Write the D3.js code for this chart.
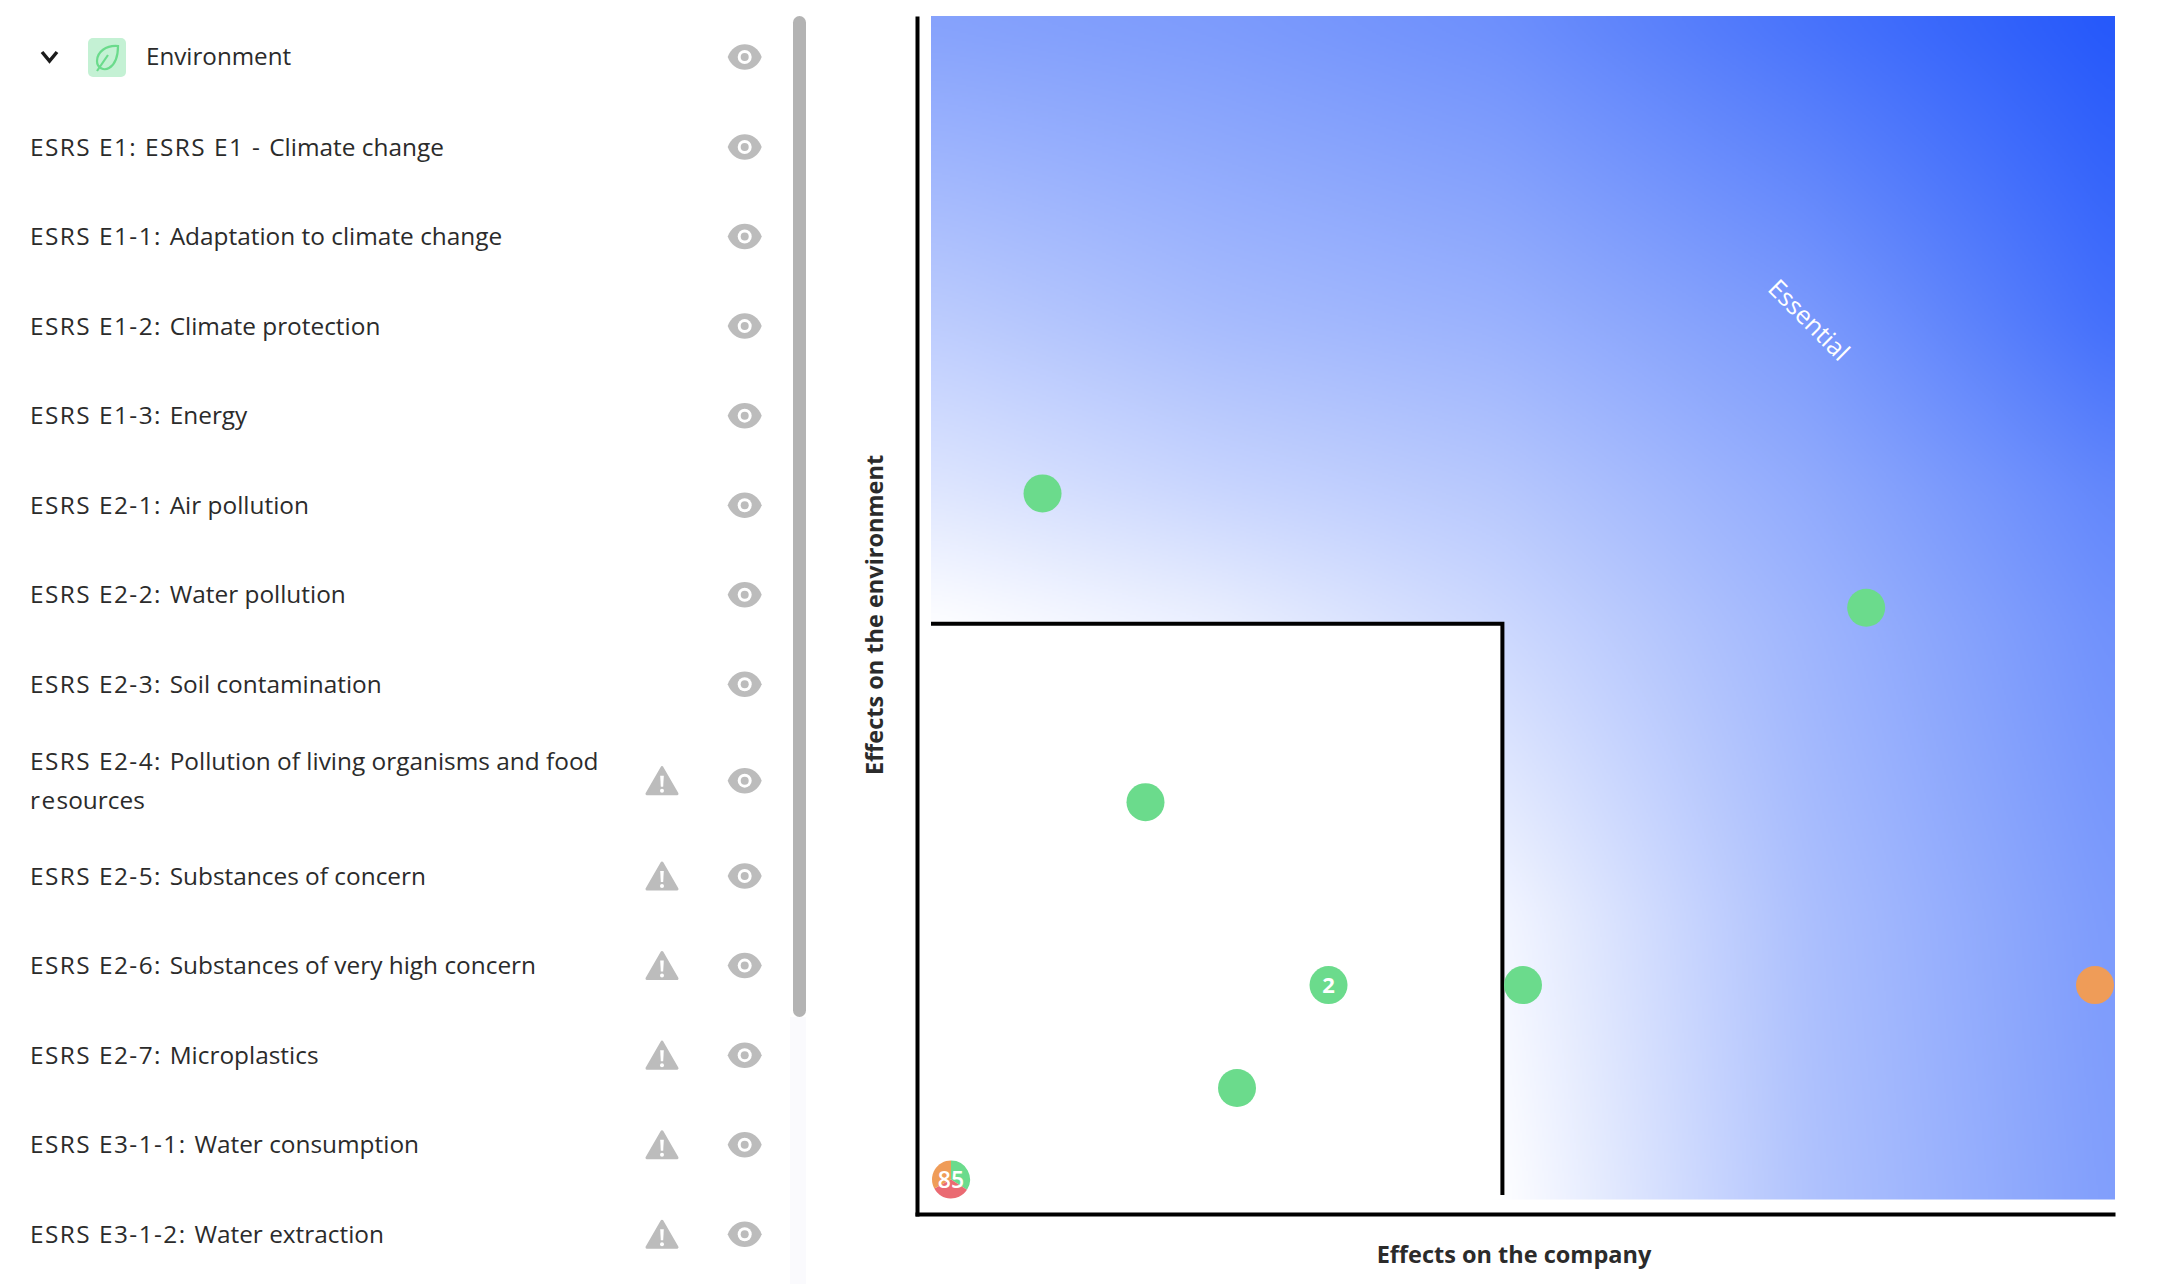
<!DOCTYPE html>
<html>
<head>
<meta charset="utf-8">
<script src="https://cdn.jsdelivr.net/npm/d3@7"></script>
<style>
  body { margin: 0; background: #fff; overflow: hidden; }
  svg { display: block; font-family: "Open Sans", "Noto Sans", sans-serif; }
</style>
</head>
<body>
<svg id="chart" width="2158" height="1284"></svg>
<script>
// sidebar rows
const topics = [
  'ESRS E1: ESRS E1 - Climate change',
  'ESRS E1-1: Adaptation to climate change',
  'ESRS E1-2: Climate protection',
  'ESRS E1-3: Energy',
  'ESRS E2-1: Air pollution',
  'ESRS E2-2: Water pollution',
  'ESRS E2-3: Soil contamination',
  'ESRS E2-4: Pollution of living organisms and food|resources',
  'ESRS E2-5: Substances of concern',
  'ESRS E2-6: Substances of very high concern',
  'ESRS E2-7: Microplastics',
  'ESRS E3-1-1: Water consumption',
  'ESRS E3-1-2: Water extraction'
]
const topicWarning = [0,0,0,0,0,0,0,1,1,1,1,1,1]

// matrix points, values on a 0-100 score
const scoreCompany     = [8, 80, 17, 33, 50, 25]
const scoreEnvironment = [60, 50, 33, 17, 17, 8]
const orangeCompany = 100, orangeEnvironment = 17
const clusterShares = [29, 28, 28]
const clusterColors = ['#6bdb8c', '#ea6a72', '#ef9c58']
const clusterLabel = '85'
const labelledIndex = 3, labelledCount = '2'
const thresholdCompany = 48.2, thresholdEnvironment = 48.6

// background shade (0 white, 1 full blue)
const shadeX = [0, 0.24, 0.48, 0.74, 1]
const shadeY = [0, 0.24, 0.485, 0.6, 0.74, 1]
const shade = [
  [0, 0, 0, 0.36, 0.58],
  [0, 0, 0.05, 0.38, 0.6],
  [0, 0.09, 0.23, 0.44, 0.66],
  [0.15, 0.25, 0.33, 0.5, 0.72],
  [0.3, 0.4, 0.46, 0.6, 0.86],
  [0.56, 0.6, 0.67, 0.84, 1]
]

let svg = d3.select('#chart')
const grey = '#bcbcbc', ink = '#2b2b2b', green = '#6bdb8c'

let x = d3.scaleLinear().domain([-1.75, 101.75]).range([931, 2115])
let y = d3.scaleLinear().domain([-1.75, 101.75]).range([1199.5, 16])

// ---- blue background, painted on a canvas then put in the svg
let side = 592
let knot = (arr, v) => {
  let i = Math.min(d3.bisectRight(arr, v) - 1, arr.length - 2)
  return [i, (v - arr[i]) / (arr[i + 1] - arr[i])]
}
let field = d3.range(side).map(r => d3.range(side).map(c => {
  let [ix, fx] = knot(shadeX, c / (side - 1))
  let [iy, fy] = knot(shadeY, 1 - r / (side - 1))
  let low = shade[iy][ix] + (shade[iy][ix + 1] - shade[iy][ix]) * fx
  let high = shade[iy + 1][ix] + (shade[iy + 1][ix + 1] - shade[iy + 1][ix]) * fx
  return low + (high - low) * fy
}))
// soften the creases between the read values
let clampI = i => Math.max(0, Math.min(side - 1, i))
for (let pass = 0; pass < 2; pass++) {
  field = field.map((row, r) => row.map((v, c) => d3.mean(d3.range(-10, 11), k => row[clampI(c + k)])))
  field = field.map((row, r) => row.map((v, c) => d3.mean(d3.range(-10, 11), k => field[clampI(r + k)][c])))
}
let canvas = document.createElement('canvas')
canvas.width = side; canvas.height = side
let ctx = canvas.getContext('2d')
let img = ctx.createImageData(side, side)
let blue = d3.interpolateRgb('#ffffff', '#2457fa')
field.forEach((row, r) => row.forEach((t, c) => {
  let col = d3.rgb(blue(t))
  let k = (r * side + c) * 4
  img.data[k] = col.r; img.data[k + 1] = col.g; img.data[k + 2] = col.b; img.data[k + 3] = 255
}))
ctx.putImageData(img, 0, 0)
svg.append('image')
  .attr('href', canvas.toDataURL())
  .attr('x', x.range()[0]).attr('y', y.range()[1])
  .attr('width', x.range()[1] - x.range()[0])
  .attr('height', y.range()[0] - y.range()[1])
  .attr('preserveAspectRatio', 'none')

// white low-priority box and its two edges
svg.append('rect')
  .attr('x', x.range()[0]).attr('y', y(thresholdEnvironment))
  .attr('width', x(thresholdCompany) - x.range()[0])
  .attr('height', y.range()[0] - y(thresholdEnvironment))
  .attr('fill', '#fff')
svg.append('path')
  .attr('d', `M${x.range()[0]},${y(thresholdEnvironment)}H${x(thresholdCompany)}V1195`)
  .attr('fill', 'none').attr('stroke', '#000').attr('stroke-width', 4)

// axes, no ticks
let axisX = d3.scaleLinear().domain([0, 1]).range([915, 2115])
let axisY = d3.scaleLinear().domain([0, 1]).range([1216, 16])
svg.append('g').attr('transform', 'translate(0,1214)')
  .call(d3.axisBottom(axisX).tickValues([]).tickSizeOuter(0))
  .select('.domain').attr('stroke', '#000').attr('stroke-width', 4)
svg.append('g').attr('transform', 'translate(917,0)')
  .call(d3.axisLeft(axisY).tickValues([]).tickSizeOuter(0))
  .select('.domain').attr('stroke', '#000').attr('stroke-width', 4)

svg.append('text').text('Effects on the company')
  .attr('x', 1514).attr('y', 1263).attr('text-anchor', 'middle')
  .attr('font-size', 23.5).attr('font-weight', 700).attr('fill', ink)
svg.append('text').text('Effects on the environment')
  .attr('transform', 'translate(883,615) rotate(-90)').attr('text-anchor', 'middle')
  .attr('font-size', 23.5).attr('font-weight', 700).attr('fill', ink)

svg.append('text').text('Essential')
  .attr('transform', 'translate(1809,320) rotate(45)')
  .attr('text-anchor', 'middle').attr('dy', '.35em')
  .attr('font-size', 25).attr('fill', '#fff')

// ---- points
let points = scoreCompany.map((d, i) => ({ c: d, e: scoreEnvironment[i] }))
svg.append('g').selectAll('circle').data(points).enter().append('circle')
  .attr('cx', d => x(d.c)).attr('cy', d => y(d.e)).attr('r', 19)
  .attr('fill', green)
svg.append('circle')
  .attr('cx', x(orangeCompany)).attr('cy', y(orangeEnvironment)).attr('r', 19)
  .attr('fill', '#ef9c58')
svg.append('text').text(labelledCount)
  .attr('x', x(points[labelledIndex].c)).attr('y', y(points[labelledIndex].e))
  .attr('dy', '.36em').attr('text-anchor', 'middle')
  .attr('font-size', 22).attr('font-weight', 700).attr('fill', '#fff')

let cluster = svg.append('g').attr('transform', `translate(${x(0)},${y(0)})`)
cluster.selectAll('path')
  .data(d3.pie().sort(null)(clusterShares))
  .enter().append('path')
  .attr('d', d3.arc().innerRadius(0).outerRadius(19))
  .attr('fill', (d, i) => clusterColors[i])
cluster.append('text').text(clusterLabel)
  .attr('dy', '.36em').attr('text-anchor', 'middle')
  .attr('font-size', 23).attr('font-weight', 600).attr('fill', '#fff')

// ---- sidebar
svg.append('rect').attr('x', 790).attr('y', 1017).attr('width', 16).attr('height', 267).attr('fill', '#fafafd')
svg.append('rect').attr('x', 793).attr('y', 16).attr('width', 13).attr('height', 1001).attr('rx', 6.5).attr('fill', '#b3b3b3')

let eye = (g) => {
  g.append('path').attr('d', 'M-17,0C-11,-17 11,-17 17,0C11,17 -11,17 -17,0Z').attr('fill', grey)
  g.append('circle').attr('r', 7).attr('fill', '#fff')
  g.append('circle').attr('r', 4).attr('fill', grey)
}
let warning = (g) => {
  g.append('path').attr('d', 'M0,-13L15,13H-15Z')
    .attr('fill', grey).attr('stroke', grey).attr('stroke-width', 3).attr('stroke-linejoin', 'round')
  g.append('path').attr('d', 'M-1.8,-5H1.8L1.2,6H-1.2Z').attr('fill', '#fff')
  g.append('circle').attr('cy', 10).attr('r', 2).attr('fill', '#fff')
}

// header row
svg.append('path').attr('d', 'M42,52L49.5,61L57,52').attr('fill', 'none')
  .attr('stroke', '#1c1c1c').attr('stroke-width', 3.5)
svg.append('rect').attr('x', 88).attr('y', 38).attr('width', 38).attr('height', 39).attr('rx', 5).attr('fill', '#c4f1d4')
svg.append('path').attr('d', 'M118,46C106,45 97,52 97,61C97,68 104,71 109,68C116,64 118,55 118,46ZM97,71L108,55')
  .attr('fill', 'none').attr('stroke', green).attr('stroke-width', 2.2)
svg.append('text').text('Environment').attr('x', 146).attr('y', 57).attr('dy', '.35em')
  .attr('font-size', 24.2).attr('fill', ink)
svg.append('g').attr('transform', 'translate(744.7,57)').call(eye)

let rowY = 147
topics.forEach((label, i) => {
  let lines = label.split('|')
  if (lines.length > 1) rowY += 6.8
  let row = svg.append('g').attr('transform', `translate(0,${rowY})`)
  lines.forEach((line, j) => {
    // the code part runs wider than the name in the original font
    let cut = Math.max(line.lastIndexOf(': ') + 2, line.lastIndexOf(' - ') + 3)
    let t = row.append('text')
      .attr('x', 30).attr('y', (j - (lines.length - 1) / 2) * 39)
      .attr('dy', '.35em').attr('font-size', 24.4).attr('fill', ink)
    t.append('tspan').attr('letter-spacing', 1.45).text(line.slice(0, cut))
    t.append('tspan').text(line.slice(cut))
  })
  row.append('g').attr('transform', 'translate(744.7,0)').call(eye)
  if (topicWarning[i]) row.append('g').attr('transform', 'translate(662,0)').call(warning)
  rowY += lines.length > 1 ? 95.4 : 89.55
})
</script>
</body>
</html>
